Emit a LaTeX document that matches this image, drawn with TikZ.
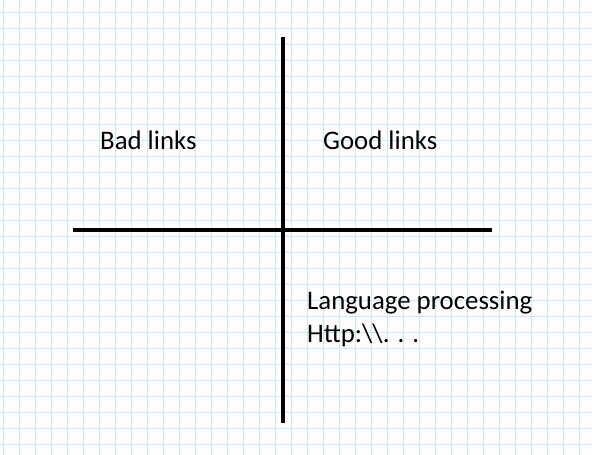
\documentclass[tikz,border=0pt]{standalone}
\usepackage{fontspec}
\setmainfont{Carlito}
\definecolor{gridblue}{RGB}{204,232,247}

\begin{document}
\begin{tikzpicture}[x=1pt, y=-1pt, font=\fontsize{26.8}{33}\selectfont]
\tikzset{axis/.style={black, line width=3.2pt}, label/.style={anchor=base west, inner sep=0pt}}

\useasboundingbox[fill=white] (0, 0) rectangle (592, 455);

\foreach \i in {0,...,36} \draw[gridblue, line width=1pt] ({3.5+16*\i}, 0) -- ({3.5+16*\i}, 455); %vertical grid
\foreach \j in {0,...,27} \draw[gridblue, line width=1pt] (0, {12.5+16*\j}) -- (592, {12.5+16*\j}); %horizontal grid

\coordinate (top) at (283, 37);
\coordinate (bottom) at (283, 423);
\coordinate (left) at (73, 230);
\coordinate (right) at (492, 230);

\draw[axis] (left) -- (right); %horizontal axis
\draw[axis] (top) -- (bottom); %vertical axis

\node[label] (bad) at (100, 149) {Bad links};
\node[label] (good) at (323, 149) {Good links};
\node[label] (lang) at (307, 309) {Language processing};
\node[label] (http) at (307, 342) {Http:\textbackslash\textbackslash. . .};

\end{tikzpicture}
\end{document}
